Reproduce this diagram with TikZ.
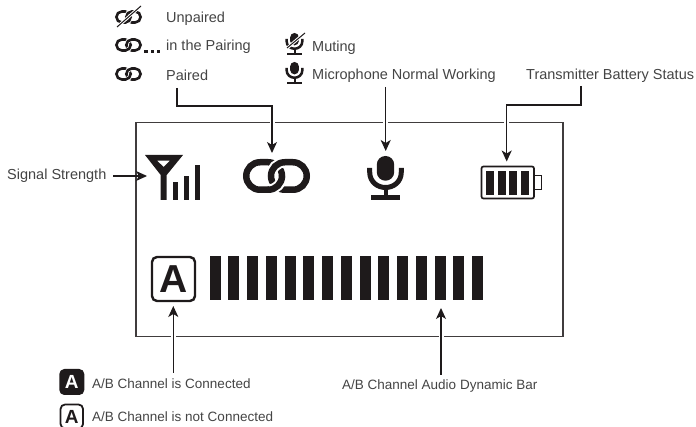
\documentclass[tikz,border=0pt]{standalone}
\usepackage{fontspec}
\setmainfont{Liberation Sans}
\usetikzlibrary{arrows.meta,calc}
\definecolor{ink}{HTML}{1E1A1B}
\definecolor{txt}{HTML}{444444}
\tikzset{
  x=1pt,y=-1pt,
  lbl/.style={anchor=west,inner sep=0pt,text=txt,font=\fontsize{14.5}{16}\selectfont},
  lblsm/.style={anchor=west,inner sep=0pt,text=txt,font=\fontsize{13.5}{15}\selectfont},
  iconbox/.style={inner sep=0pt,outer sep=0pt,minimum width=#1},
  frame/.style={draw=ink!85,line width=1.2pt},
  conn/.style={draw=ink,line width=1.2pt,-{Stealth[length=11pt,width=10pt,inset=3pt]},
     preaction={draw=white,line width=5pt,-,shorten >=12pt}},
}
\newcommand{\chainicon}[3]{%
  \begin{scope}[shift={(#1,#2)},scale=#3]
    \draw[ink,line width=#3*6.5pt,rounded corners=#3*13.75pt] (-30.25,-13.75) rectangle (5.5,13.75);
    \draw[white,line width=#3*10.5pt,rounded corners=#3*13.75pt] (-5.5,-13.75) rectangle (30.25,13.75);
    \draw[ink,line width=#3*6.5pt,rounded corners=#3*13.75pt] (-5.5,-13.75) rectangle (30.25,13.75);
    \draw[white,line width=#3*10.5pt] (-6,13.4) .. controls (-1,13.2) and (5.5,7.6) .. (5.5,1);
    \draw[ink,line width=#3*6.5pt] (-9,13.75) -- (-8.25,13.75) .. controls (-0.65,13.75) and (5.5,7.6) .. (5.5,0);
  \end{scope}}
\newcommand{\micicon}[3]{%
  \begin{scope}[shift={(#1,#2)},scale=#3]
    \fill[ink,rounded corners=#3*8.6pt] (-8.7,-22) rectangle (8.7,2.7);
    \draw[ink,line width=#3*5pt] (-15.8,-10) -- (-15.8,-6) .. controls (-15.8,4) and (-8,9.5) .. (0,9.5) .. controls (8,9.5) and (15.8,4) .. (15.8,-6) -- (15.8,-10);
    \draw[ink,line width=#3*4pt] (0,9) -- (0,19);
    \fill[ink] (-14.5,17.5) rectangle (14.5,22);
  \end{scope}}
\begin{document}
\begin{tikzpicture}
\useasboundingbox (0,0) rectangle (696,427);
% display frame
\node[inner sep=0,outer sep=0,minimum width=427pt,minimum height=214.5pt,frame] (disp) at (349.5,229.5) {};
% legend texts
\node[lbl] (unpaired) at (166,18.5) {Unpaired};
\node[lbl] (pairing) at (166,46.5) {in the Pairing};
\node[lbl] (paired) at (166,75) {Paired};
\node[lbl] (muting) at (312,47.5) {Muting};
\node[lbl] (micnormal) at (312,75.5) {Microphone Normal Working};
\node[lbl] (battxt) at (526,75.5) {Transmitter Battery Status};
\node[lbl] (sigtxt) at (7,175.5) {Signal Strength};
\node[lblsm] (conn1) at (92,383.5) {A/B Channel is Connected};
\node[lblsm] (conn0) at (92,416.5) {A/B Channel is not Connected};
\node[lblsm] (bartxt) at (342,386) {A/B Channel Audio Dynamic Bar};
% legend chain icons
\chainicon{128.5}{17}{0.4}
\draw[white,line width=3pt] (116,28) -- (142,5);
\draw[ink,line width=1pt] (117,27) -- (141,6);
\chainicon{128.5}{45}{0.4}
\foreach \x in {146,152.5,158.5} \fill[ink] (\x-1.6,50.5) rectangle (\x+1.6,53.5);
\chainicon{128.5}{74}{0.4}
% legend mic icons
\micicon{294.5}{44}{0.5}
\draw[white,line width=3pt] (286,49) -- (306,32);
\draw[ink,line width=1pt] (287,48) -- (305,33);
\micicon{294.5}{73}{0.5}
% main icons as named anchors
\node[iconbox=67pt,minimum height=34pt] (chain) at (276.5,176) {};
\chainicon{276.5}{176}{1}
\node[iconbox=36pt,minimum height=44pt] (mic) at (385.5,178) {};
\micicon{385.5}{178}{1}
% antenna
\node[iconbox=55pt,minimum height=45pt] (ant) at (172.5,177.5) {};
\fill[ink,even odd rule] (145,155) -- (183,155) -- (166.7,175) -- (166.7,200) -- (160.7,200) -- (160.7,175) -- cycle
  (157,160.7) -- (170,160.7) -- (163.7,167) -- cycle;
\fill[ink] (173.3,182) rectangle (178.3,200);
\fill[ink] (184,176) rectangle (189,200);
\fill[ink] (195,165) rectangle (200,200);
% battery
\node[iconbox=61pt,minimum height=33pt] (bat) at (511.5,182.5) {};
\draw[ink,line width=1.7pt,rounded corners=2pt] (481.5,166.5) rectangle (534,198.5);
\draw[ink,line width=1.6pt] (534,175.5) -- (541.5,175.5) -- (541.5,189.5) -- (534,189.5);
\foreach \x in {486,497.5,509,521} \fill[ink] (\x,171) rectangle (\x+8.3,195);
% channel box
\node[draw=ink,line width=2.4pt,rounded corners=5pt,minimum width=43pt,minimum height=44pt,inner sep=0pt,font=\fontsize{39}{39}\selectfont\bfseries,text=ink] (chbox) at (173.5,279) {A};
% bars
\node[iconbox=274pt,minimum height=44pt] (bars) at (346,278) {};
\foreach \i in {0,...,14} \fill[ink] (209.5+\i*18.75,256) rectangle (220.5+\i*18.75,300);
% legend A icons
\node[fill=ink,rounded corners=5pt,minimum width=25pt,minimum height=26pt,inner sep=0pt,font=\fontsize{19}{19}\selectfont\bfseries,text=white] (aon) at (71.8,382) {A};
\node[draw=ink,line width=1.8pt,rounded corners=4.5pt,minimum width=22.5pt,minimum height=24pt,inner sep=0pt,font=\fontsize{19}{19}\selectfont\bfseries,text=ink] (aoff) at (71.8,416.5) {A};
% connector ends
\coordinate (c1) at (177,88);
\coordinate (c2) at (385.7,87);
\coordinate (c3) at (581,86);
\coordinate (c4) at (113,176);
\coordinate (c5) at (173.3,373);
\coordinate (c6) at (441,375);
\coordinate (t1) at (272,153);
\coordinate (t2) at (385.7,151);
\coordinate (t3) at (506.7,161.5);
\coordinate (t4) at (147,176);
\coordinate (t5) at (173.3,306);
\coordinate (t6) at (441,308);
\draw[conn] (c1) |- (272,106) -- (t1);
\draw[conn] (c2) -- (t2);
\draw[conn] (c3) |- (506.7,105) -- (t3);
\draw[conn] (c4) -- (t4);
\draw[conn] (c5) -- (t5);
\draw[conn] (c6) -- (t6);
\end{tikzpicture}
\end{document}
